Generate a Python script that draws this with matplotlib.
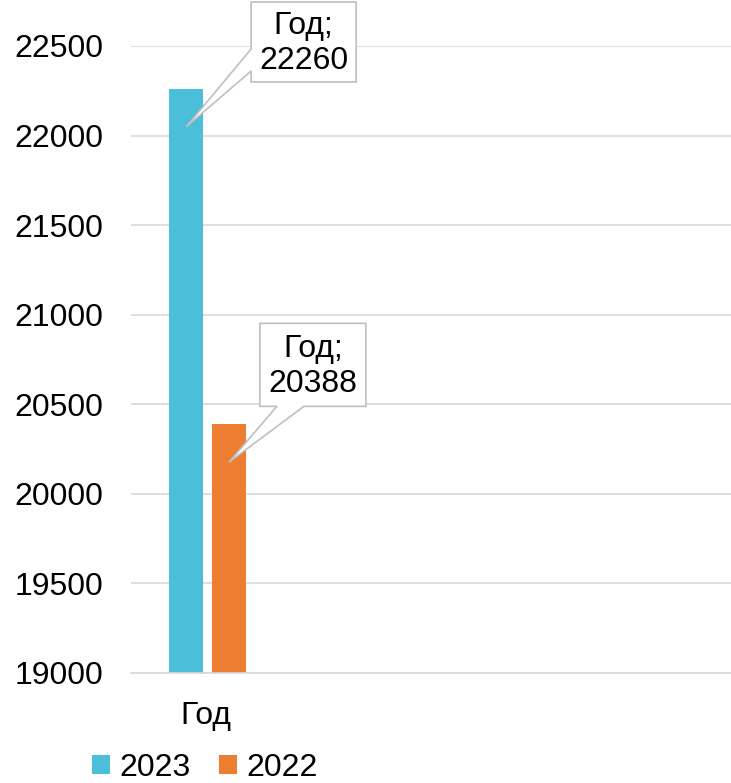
import matplotlib
matplotlib.use("Agg")
import matplotlib.pyplot as plt
from matplotlib.patches import Polygon

plt.rcParams['font.family'] = ['Liberation Sans', 'DejaVu Sans']

categories = ["Год", "", "", ""]
series_names = ["2023", "2022"]
values_2023 = [22260]
values_2022 = [20388]
colors = ["#4BBFD9", "#ED7D31"]
yticks = [19000, 19500, 20000, 20500, 21000, 21500, 22000, 22500]

W, H = 731, 783
fig = plt.figure(figsize=(W / 100, H / 100), dpi=100)
ax = fig.add_axes([131 / W, 1 - 673 / H, 1 - 131 / W, (673 - 46) / H])

FS = 23
bw = 0.23
gap = 0.055
x0 = [0]
b1 = ax.bar([x - (bw + gap) / 2 + 0.01 for x in x0], [v - 19000 for v in values_2023], bw,
            bottom=19000, color=colors[0], label=series_names[0], zorder=2)
b2 = ax.bar([x + (bw + gap) / 2 + 0.01 for x in x0], [v - 19000 for v in values_2022], bw,
            bottom=19000, color=colors[1], label=series_names[1], zorder=2)

ax.set_xlim(-0.5, len(categories) - 0.5)
ax.set_ylim(19000, 22500)
ax.set_yticks(yticks)
ax.set_yticklabels([str(t) for t in yticks], fontsize=FS)
ax.set_xticks(range(len(categories)))
ax.set_xticklabels(categories, fontsize=FS)
ax.tick_params(axis='both', length=0, colors='black')
ax.tick_params(axis='y', pad=20)
ax.tick_params(axis='x', pad=20)
ax.grid(axis='y', color='#D9D9D9', linewidth=1.2, zorder=0)
ax.set_axisbelow(True)
for s in ['top', 'right', 'left']:
    ax.spines[s].set_visible(False)
ax.spines['bottom'].set_color('#D9D9D9')
ax.spines['bottom'].set_linewidth(1.2)

fig.canvas.draw()

# Callouts: pixel offsets relative to an anchor computed from data
def callout(bar, val, box, wedge_side, wedge_pts):
    cx = bar.get_x() + bar.get_width() / 2
    px, py = ax.transData.transform((cx, val))
    py -= 38  # anchor inside the bar, below its top
    l, r, t, b = box
    L, R, T, B = px + l, px + r, py + t, py + b  # display coords, y up
    w1, w2 = wedge_pts
    if wedge_side == 'left':
        pts = [(L, T), (R, T), (R, B), (L, B), (L, py + w2), (px, py), (L, py + w1)]
    else:
        pts = [(L, T), (R, T), (R, B), (px + w2, B), (px, py), (px + w1, B), (L, B)]
    poly = Polygon(pts, closed=True, transform=None, facecolor='white',
                   edgecolor='#BFBFBF', linewidth=1.2, zorder=5)
    fig.add_artist(poly)
    fig.text((L + R) / 2 / W, (T + B) / 2 / H - 0.002, f"{categories[0]};\n{val}",
             ha='center', va='center', fontsize=FS, linespacing=1.2, zorder=6)

callout(b1[0], values_2023[0], (65, 170, 125, 45), 'left', (78, 56))
callout(b2[0], values_2022[0], (31, 137, 139, 56), 'bottom', (48, 75))

leg = fig.legend(handles=[b1, b2], labels=series_names, loc='center',
                 bbox_to_anchor=(205 / W, 1 - 768 / H), ncol=2, frameon=False,
                 fontsize=FS, handlelength=0.55, handleheight=0.55,
                 handletextpad=0.3, columnspacing=0.9, borderpad=0)

fig.savefig("out.png", dpi=100)
